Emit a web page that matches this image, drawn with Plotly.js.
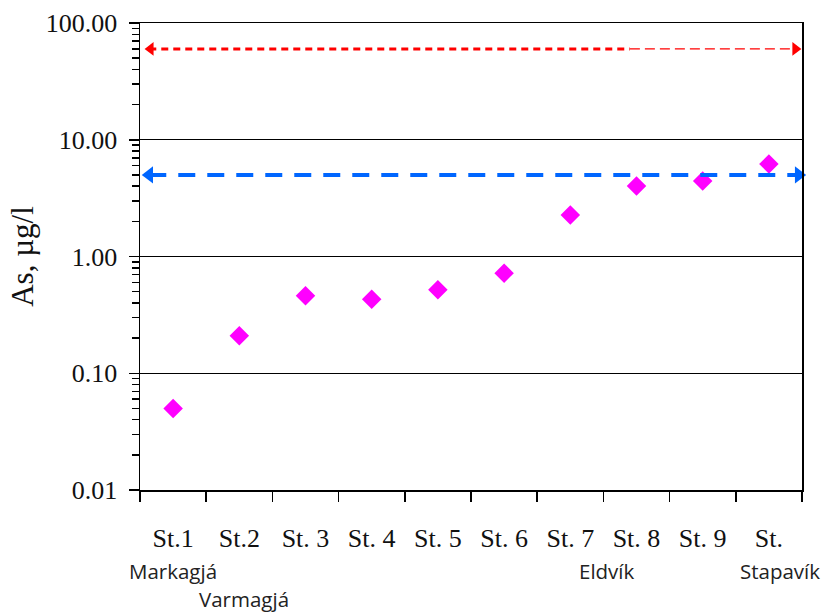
<!DOCTYPE html>
<html>
<head>
<meta charset="utf-8">
<script src="https://cdn.plot.ly/plotly-3.0.1.min.js"></script>
<style>html,body{margin:0;padding:0;background:#fff}#chart{width:823px;height:612px}</style>
</head>
<body>
<div id="chart"></div>
<script>
// ---- data ----
var stations = ["St.1", "St.2", "St. 3", "St. 4", "St. 5", "St. 6", "St. 7", "St. 8", "St. 9", "St."];
var asValues = [0.05, 0.21, 0.46, 0.43, 0.52, 0.72, 2.27, 4.02, 4.43, 6.2];
var yTickVals = [0.01, 0.1, 1, 10, 100];
var yTickText = ["0.01", "0.10", "1.00", "10.00", "100.00"];
var redLimit = 60;   // upper reference level
var blueLimit = 5;   // lower reference level
var siteNames = ["Markagjá", "Varmagjá", "Eldvík", "Stapavík"];
var sitePos = [0, 1.07, 6.55, 9.17];     // x position (category index)
var siteRow = [0, 1, 0, 0];              // 0 = first row, 1 = second row

var serif = "Liberation Serif, Times New Roman, serif";

var traces = [
  {
    x: stations, y: asValues, type: "scatter", mode: "markers",
    marker: {symbol: "diamond", size: 15, color: "#FF00FF"},
    xaxis: "x", yaxis: "y", hoverinfo: "x+y", cliponaxis: false
  },
  // red reference: thick short dashes then thin long dashes
  {
    x: [-0.36, 6.9], y: [redLimit, redLimit], xaxis: "x2", yaxis: "y",
    mode: "lines", line: {color: "#FF0000", width: 3, dash: "7px,5px"}, cliponaxis: false
  },
  {
    x: [6.9, 9.4], y: [redLimit, redLimit], xaxis: "x2", yaxis: "y",
    mode: "lines", line: {color: "#FF0000", width: 1.3, dash: "10px,5px"}, cliponaxis: false
  },
  {
    x: [-0.34, 9.4], y: [redLimit, redLimit], xaxis: "x2", yaxis: "y",
    mode: "markers", marker: {symbol: ["triangle-left", "triangle-right"], size: 12, color: "#FF0000"},
    cliponaxis: false
  },
  // blue reference
  {
    x: [-0.36, 9.45], y: [blueLimit, blueLimit], xaxis: "x2", yaxis: "y",
    mode: "lines", line: {color: "#0066FF", width: 4, dash: "17px,12px"}, cliponaxis: false
  },
  {
    x: [-0.36, 9.45], y: [blueLimit, blueLimit], xaxis: "x2", yaxis: "y",
    mode: "markers", marker: {symbol: ["triangle-left", "triangle-right"], size: 15, color: "#0066FF"},
    cliponaxis: false
  }
];
// reorder so markers are on top
traces.push(traces.shift());

var annotations = siteNames.map(function (name, i) {
  return {
    text: name, xref: "x2", yref: "paper", x: sitePos[i],
    y: siteRow[i] === 0 ? -0.173 : -0.233, yanchor: "middle", xanchor: "center",
    showarrow: false, font: {family: "Open Sans, sans-serif", size: 20.5, color: "#222"}
  };
});

var layout = {
  width: 823, height: 612,
  margin: {l: 140, r: 21, t: 23, b: 122},
  paper_bgcolor: "#fff", plot_bgcolor: "#fff",
  showlegend: false,
  xaxis: {
    type: "category", categoryorder: "array", categoryarray: stations,
    range: [-0.5, 9.5], tickson: "boundaries",
    ticks: "outside", ticklen: 10, tickwidth: 1.5, tickcolor: "#000",
    showline: true, linecolor: "#000", linewidth: 1.5, mirror: true,
    showgrid: false, zeroline: false,
    tickfont: {family: serif, size: 26, color: "#111"},
    ticklabelstandoff: 24
  },
  xaxis2: {
    overlaying: "x", type: "linear", range: [-0.5, 9.5], visible: false
  },
  yaxis: {
    type: "log", range: [-2, 2],
    tickvals: yTickVals, ticktext: yTickText,
    ticks: "outside", ticklen: 10, tickwidth: 1.5, tickcolor: "#000",
    minor: {dtick: "D1", ticks: "outside", ticklen: 7, tickwidth: 1.5, tickcolor: "#000", showgrid: false},
    showline: true, linecolor: "#000", linewidth: 1.5, mirror: true,
    showgrid: true, gridcolor: "#000", gridwidth: 1.2, zeroline: false,
    tickfont: {family: serif, size: 26, color: "#111"},
    ticklabelstandoff: 6,
    title: {text: "As, µg/l", font: {family: serif, size: 31, color: "#111"}, standoff: 3}
  },
  annotations: annotations
};

Plotly.newPlot("chart", traces, layout, {displayModeBar: false, staticPlot: true});
</script>
</body>
</html>
